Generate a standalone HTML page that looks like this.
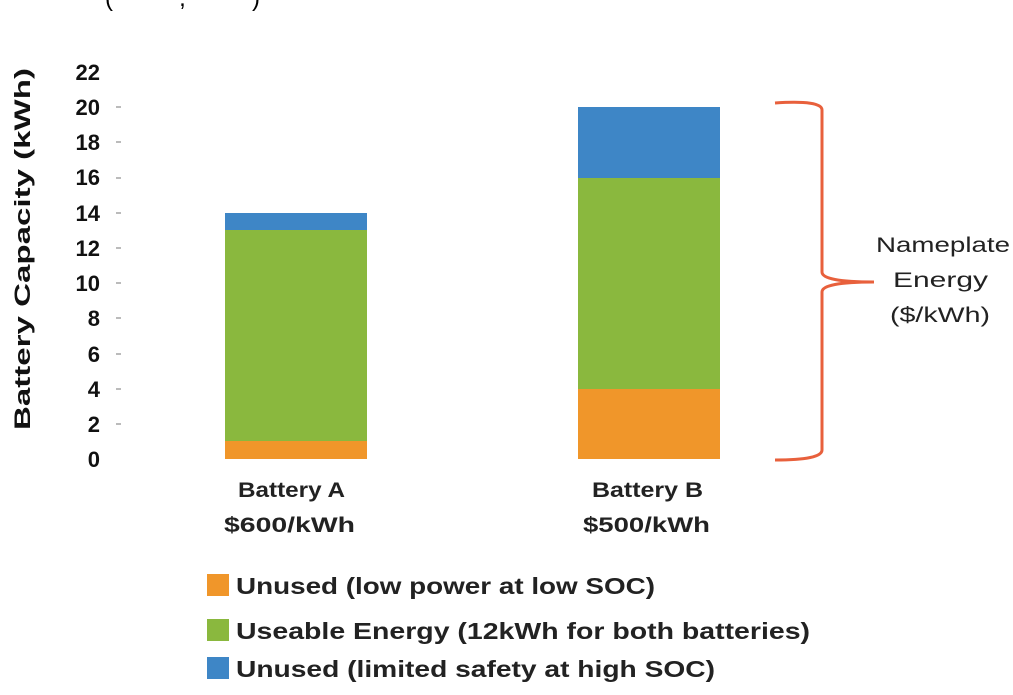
<!DOCTYPE html>
<html><head><style>
body{margin:0;background:#fff;}
svg text{font-family:"Liberation Sans",sans-serif;}
</style></head><body>
<svg width="1013" height="690" xmlns="http://www.w3.org/2000/svg">
<text x="105" y="6" font-family="Liberation Serif" font-size="24" fill="#000" textLength="155" lengthAdjust="spacing">(       ,       )</text>
<g font-size="22" font-weight="bold" fill="#111" text-anchor="end">
<text x="100" y="467">0</text><text x="100" y="432">2</text><text x="100" y="397">4</text>
<text x="100" y="362">6</text><text x="100" y="326">8</text><text x="100" y="291">10</text>
<text x="100" y="256">12</text><text x="100" y="221">14</text><text x="100" y="185">16</text>
<text x="100" y="150">18</text><text x="100" y="115">20</text><text x="100" y="80">22</text>
</g>
<g stroke="#bbb" stroke-width="2">
<line x1="116" y1="424" x2="121" y2="424"/><line x1="116" y1="389" x2="121" y2="389"/>
<line x1="116" y1="354" x2="121" y2="354"/><line x1="116" y1="318" x2="121" y2="318"/>
<line x1="116" y1="283" x2="121" y2="283"/><line x1="116" y1="248" x2="121" y2="248"/>
<line x1="116" y1="213" x2="121" y2="213"/><line x1="116" y1="178" x2="121" y2="178"/>
<line x1="116" y1="142" x2="121" y2="142"/><line x1="116" y1="107" x2="121" y2="107"/>
</g>
<text transform="translate(30,430) rotate(-90)" font-size="22" font-weight="bold" fill="#111" textLength="362" lengthAdjust="spacingAndGlyphs">Battery Capacity (kWh)</text>
<rect x="225" y="441" width="142" height="18" fill="#f0962a"/>
<rect x="225" y="230" width="142" height="211" fill="#8ab83e"/>
<rect x="225" y="213" width="142" height="17" fill="#3e86c6"/>
<rect x="578" y="389" width="142" height="70" fill="#f0962a"/>
<rect x="578" y="178" width="142" height="211" fill="#8ab83e"/>
<rect x="578" y="107" width="142" height="71" fill="#3e86c6"/>
<path d="M775,103 Q822,100 822,110 L822,272 Q822,282 874,282 Q822,282 822,292 L822,450 Q822,460 775,460" fill="none" stroke="#e8603c" stroke-width="3"/>
<g font-size="21" fill="#222">
<text x="876" y="252" textLength="134" lengthAdjust="spacingAndGlyphs">Nameplate</text>
<text x="893" y="287" textLength="95" lengthAdjust="spacingAndGlyphs">Energy</text>
<text x="890" y="322" textLength="100" lengthAdjust="spacingAndGlyphs">($/kWh)</text>
</g>
<g font-size="21" font-weight="bold" fill="#222">
<text x="238" y="497" textLength="107" lengthAdjust="spacingAndGlyphs">Battery A</text>
<text x="224" y="532" textLength="131" lengthAdjust="spacingAndGlyphs">$600/kWh</text>
<text x="592" y="497" textLength="111" lengthAdjust="spacingAndGlyphs">Battery B</text>
<text x="583" y="532" textLength="127" lengthAdjust="spacingAndGlyphs">$500/kWh</text>
</g>
<rect x="207" y="574" width="22" height="22" fill="#f0962a"/>
<rect x="207" y="619" width="22" height="22" fill="#8ab83e"/>
<rect x="207" y="657" width="22" height="22" fill="#3e86c6"/>
<g font-size="23" font-weight="bold" fill="#222">
<text x="236" y="594" textLength="419" lengthAdjust="spacingAndGlyphs">Unused (low power at low SOC)</text>
<text x="236" y="639" textLength="574" lengthAdjust="spacingAndGlyphs">Useable Energy (12kWh for both batteries)</text>
<text x="236" y="677" textLength="479" lengthAdjust="spacingAndGlyphs">Unused (limited safety at high SOC)</text>
</g>
</svg>
</body></html>
